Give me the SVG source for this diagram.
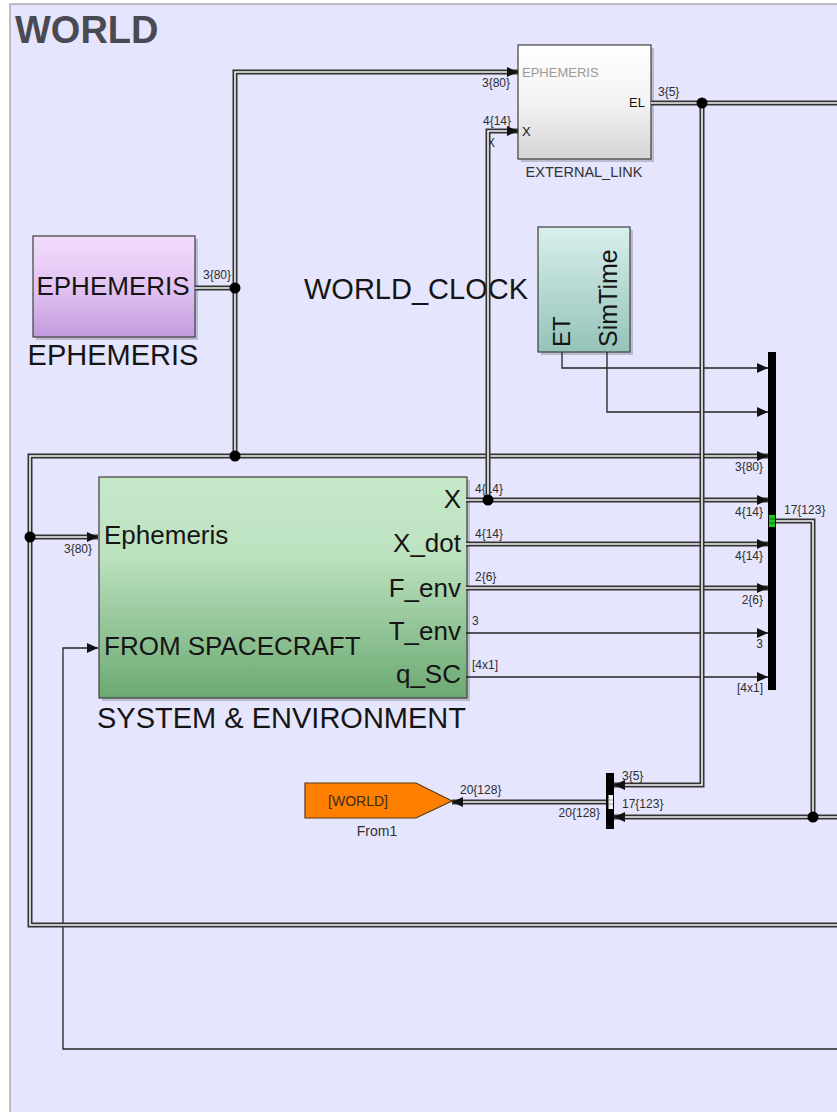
<svg xmlns="http://www.w3.org/2000/svg" width="837" height="1112" viewBox="0 0 837 1112">
<defs>
  <linearGradient id="gEph" x1="0" y1="0" x2="0" y2="1">
    <stop offset="0" stop-color="#f3dcfd"/><stop offset="0.5" stop-color="#e2c4f2"/><stop offset="1" stop-color="#c29ade"/>
  </linearGradient>
  <linearGradient id="gClk" x1="0" y1="0" x2="0" y2="1">
    <stop offset="0" stop-color="#d9efeb"/><stop offset="1" stop-color="#94c3ba"/>
  </linearGradient>
  <linearGradient id="gSys" x1="0" y1="0" x2="0" y2="1">
    <stop offset="0" stop-color="#c6e9c9"/><stop offset="0.35" stop-color="#bde2c0"/><stop offset="1" stop-color="#6ca972"/>
  </linearGradient>
  <linearGradient id="gExt" x1="0" y1="0" x2="0" y2="1">
    <stop offset="0" stop-color="#ffffff"/><stop offset="0.5" stop-color="#f3f3f3"/><stop offset="1" stop-color="#d5d5d5"/>
  </linearGradient>
  <marker id="ah" viewBox="0 0 11 10" refX="11" refY="5" markerWidth="11" markerHeight="10" markerUnits="userSpaceOnUse" orient="auto">
    <path d="M0,0 L11,5 L0,10 z" fill="#111"/>
  </marker>
</defs>
<style>
  .bo{fill:none;stroke:#333;stroke-width:5;stroke-linejoin:miter}
  .bi{fill:none;stroke:#f6f6f6;stroke-width:1.6;stroke-linejoin:miter}
  .th{fill:none;stroke:#222;stroke-width:1.3}
  .lbl{font-family:"Liberation Sans",Arial,sans-serif;font-size:12px;fill:#2e2e2e}
  .t{font-family:"Liberation Sans",Arial,sans-serif;fill:#151515}
  .blk{stroke:#3e3e3e;stroke-width:1.2}
  .sh{fill:#000;opacity:0.18}
  .jn{fill:#000}
</style>
<rect x="0" y="0" width="837" height="1112" fill="#ffffff"/>
<rect x="10" y="4" width="840" height="1120" fill="#e5e5fd" stroke="#9a9a9a" stroke-width="1.2"/>
<text x="15" y="43" font-family="'Liberation Sans',Arial,sans-serif" font-size="38" font-weight="bold" fill="#4a4a52">WORLD</text>

<g id="ephemeris">
  <rect class="sh" x="36" y="239" width="162" height="101"/>
  <rect class="blk" x="33" y="236" width="162" height="101" fill="url(#gEph)"/>
  <text class="t" x="113" y="295" font-size="26" text-anchor="middle">EPHEMERIS</text>
  <text class="t" x="113" y="365" font-size="29" text-anchor="middle">EPHEMERIS</text>
</g>

<g id="world_clock">
  <rect class="sh" x="541" y="230" width="92" height="125"/>
  <rect class="blk" x="538" y="227" width="92" height="125" fill="url(#gClk)"/>
  <text class="t" transform="translate(570,347) rotate(-90)" font-size="24">ET</text>
  <text class="t" transform="translate(617,347) rotate(-90)" font-size="25">SimTime</text>
  <text class="t" x="304" y="299" font-size="29">WORLD_CLOCK</text>
</g>

<g id="external_link">
  <rect class="sh" x="521" y="48" width="133" height="114"/>
  <rect class="blk" x="518" y="45" width="133" height="114" fill="url(#gExt)"/>
  <text class="t" x="522" y="77" font-size="13" style="fill:#9a9a9a">EPHEMERIS</text>
  <text class="t" x="522" y="136" font-size="13">X</text>
  <text class="t" x="645" y="107" font-size="13" text-anchor="end">EL</text>
  <text class="t" x="584" y="177" font-size="14.5" text-anchor="middle" style="fill:#333">EXTERNAL_LINK</text>
</g>

<g id="system_env">
  <rect class="sh" x="102" y="480" width="368" height="221"/>
  <rect class="blk" x="99" y="477" width="368" height="221" fill="url(#gSys)"/>
  <text class="t" x="104" y="544" font-size="26">Ephemeris</text>
  <text class="t" x="104" y="655" font-size="26">FROM SPACECRAFT</text>
  <text class="t" x="461" y="508" font-size="26" text-anchor="end">X</text>
  <text class="t" x="461" y="552" font-size="26" text-anchor="end">X_dot</text>
  <text class="t" x="461" y="597" font-size="26" text-anchor="end">F_env</text>
  <text class="t" x="461" y="640" font-size="26" text-anchor="end">T_env</text>
  <text class="t" x="461" y="683" font-size="26" text-anchor="end">q_SC</text>
  <text class="t" x="97" y="728" font-size="29">SYSTEM &amp; ENVIRONMENT</text>
</g>

<g id="from1">
  <polygon points="305,783 416,783 452,801 416,818 305,818" fill="#ff8000" stroke="#5a3a10" stroke-width="1.2"/>
  <text class="t" x="358" y="806" font-size="14" text-anchor="middle" style="fill:#3a2a1a">[WORLD]</text>
  <text class="t" x="377" y="836" font-size="14" text-anchor="middle" style="fill:#333">From1</text>
</g>

<g id="bus_main">
  <rect x="768" y="352" width="8" height="338" fill="#000"/>
  <rect x="769" y="515" width="6" height="12" fill="#22c422"/>
  <path d="M769,519 H775 M769,523 H775" stroke="#0a5a0a" stroke-width="0.8"/>
</g>

<g id="bus_out">
  <rect x="606" y="773" width="8" height="56" fill="#000"/>
  <rect x="608.5" y="795" width="4.5" height="14" fill="#f4f4f4"/>
  <path d="M608.5,800 H613 M608.5,804 H613" stroke="#888" stroke-width="0.8"/>
</g>

<g id="connectors">
  <g id="labels">
    <text class="lbl" x="203" y="279">3{80}</text>
    <text class="lbl" x="482" y="87">3{80}</text>
    <text class="lbl" x="483" y="125">4{14}</text>
    <text class="lbl" x="487" y="147">X</text>
    <text class="lbl" x="658" y="96">3{5}</text>
    <text class="lbl" x="763" y="471" text-anchor="end">3{80}</text>
    <text class="lbl" x="475" y="493">4{14}</text>
    <text class="lbl" x="763" y="516" text-anchor="end">4{14}</text>
    <text class="lbl" x="475" y="538">4{14}</text>
    <text class="lbl" x="763" y="560" text-anchor="end">4{14}</text>
    <text class="lbl" x="475" y="581">2{6}</text>
    <text class="lbl" x="763" y="604" text-anchor="end">2{6}</text>
    <text class="lbl" x="472" y="625">3</text>
    <text class="lbl" x="763" y="648" text-anchor="end">3</text>
    <text class="lbl" x="472" y="669">[4x1]</text>
    <text class="lbl" x="763" y="692" text-anchor="end">[4x1]</text>
    <text class="lbl" x="784" y="514">17{123}</text>
    <text class="lbl" x="64" y="553">3{80}</text>
    <text class="lbl" x="622" y="780">3{5}</text>
    <text class="lbl" x="622" y="808">17{123}</text>
    <text class="lbl" x="460" y="794">20{128}</text>
    <text class="lbl" x="600" y="817" text-anchor="end">20{128}</text>
  </g>
  <path class="th" d="M466,633 H768" marker-end="url(#ah)"/>
  <path class="th" d="M466,677 H768" marker-end="url(#ah)"/>
  <path class="th" d="M562,352 V368 H768" marker-end="url(#ah)"/>
  <path class="th" d="M607,352 V412 H768" marker-end="url(#ah)"/>
  <path class="th" d="M837,1049 H63 V648 H98" marker-end="url(#ah)"/>
  <path class="bo" d="M195,288 H235"/><path class="bi" d="M195,288 H235"/>
  <path class="bo" d="M235,456 H30 V925 H837"/><path class="bi" d="M235,456 H30 V925 H837"/>
  <path class="bo" d="M235,456 H768" marker-end="url(#ah)"/><path class="bi" d="M235,456 H757"/>
  <path class="bo" d="M30,537 H98" marker-end="url(#ah)"/><path class="bi" d="M30,537 H87"/>
  <path class="bo" d="M466,500 H768" marker-end="url(#ah)"/><path class="bi" d="M466,500 H757"/>
  <path class="bo" d="M466,544 H768" marker-end="url(#ah)"/><path class="bi" d="M466,544 H757"/>
  <path class="bo" d="M466,588 H768" marker-end="url(#ah)"/><path class="bi" d="M466,588 H757"/>
  <path class="bo" d="M651,103 H837"/><path class="bi" d="M651,103 H837"/>
  <path class="bo" d="M776,521 H813 V817"/><path class="bi" d="M776,521 H813 V817"/>
  <path class="bo" d="M837,817 H614" marker-end="url(#ah)"/><path class="bi" d="M837,817 H625"/>
  <path class="bo" d="M606,802 H452" marker-end="url(#ah)"/><path class="bi" d="M606,802 H463"/>
  <path class="bo" d="M235,456 V72 H518" marker-end="url(#ah)"/><path class="bi" d="M235,456 V72 H507"/>
  <path class="bo" d="M488,500 V131 H518" marker-end="url(#ah)"/><path class="bi" d="M488,500 V131 H507"/>
  <path class="bo" d="M702,103 V785 H614" marker-end="url(#ah)"/><path class="bi" d="M702,103 V785 H625"/>
  <circle class="jn" cx="235" cy="288" r="5.5"/>
  <circle class="jn" cx="235" cy="456" r="5.5"/>
  <circle class="jn" cx="30" cy="537" r="5.5"/>
  <circle class="jn" cx="488" cy="500" r="5.5"/>
  <circle class="jn" cx="702" cy="103" r="5.5"/>
  <circle class="jn" cx="813" cy="817" r="5.5"/>
</g>
</svg>
